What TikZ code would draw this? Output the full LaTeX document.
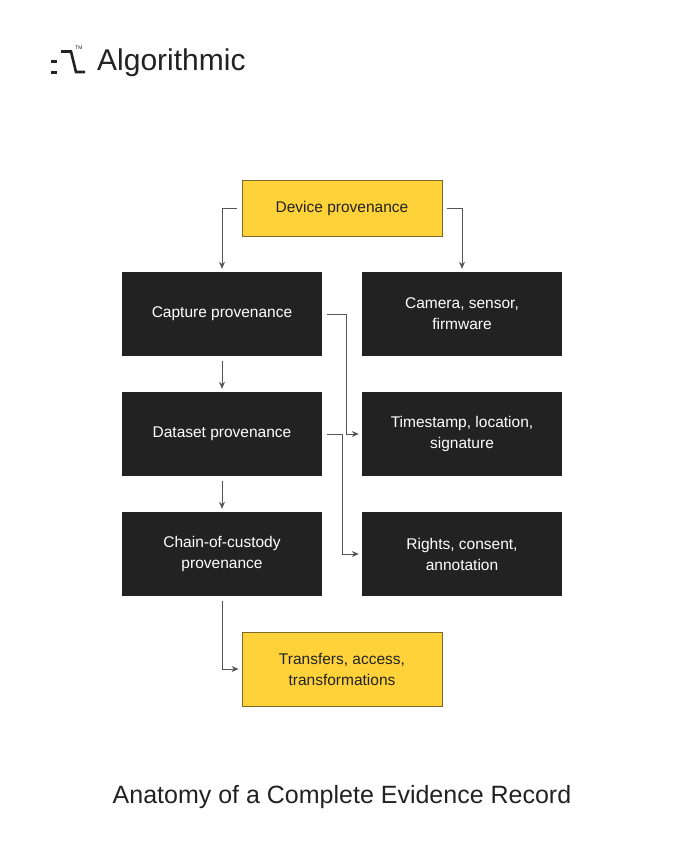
\documentclass[tikz,border=0pt]{standalone}
\usepackage{fontspec}
\setmainfont{Liberation Sans}
\usetikzlibrary{arrows.meta}
\definecolor{yel}{HTML}{FFD23A}
\definecolor{yelb}{HTML}{7A6A2A}
\definecolor{blk}{HTML}{222222}
\definecolor{ln}{HTML}{555555}
\begin{document}
\begin{tikzpicture}[x=1pt,y=-1pt,
  box/.style={draw=none,fill=blk,text=white,minimum width=200pt,minimum height=84pt,align=center,font=\fontsize{15.5}{21}\selectfont,inner sep=0pt},
  ybox/.style={draw=yelb,line width=0.8pt,fill=yel,text=blk,minimum width=200pt,align=center,font=\fontsize{15.5}{21}\selectfont,inner sep=0pt},
  con/.style={draw=ln,line width=0.9pt,-{Stealth[length=7pt,width=6pt]}}]
\useasboundingbox[fill=white] (0,0) rectangle (685,857);
% logo
\fill[blk] (51,71) rectangle (57,73.5);
\fill[blk] (51,60) rectangle (57,62.5);
\draw[blk,line width=2.6pt] (61,51.5) -- (71,51.5) -- (76,72) -- (85,72);
\node[anchor=west,font=\fontsize{5}{5}\selectfont,text=blk,inner sep=0pt] (tm) at (75,48) {TM};
\node[anchor=west,font=\fontsize{30}{30}\selectfont,text=blk,inner sep=0pt] (logo) at (97,63) {Algorithmic};
% boxes
\node[ybox,minimum height=56pt] (dev) at (342,208) {Device provenance};
\node[box] (cap) at (222,314) {Capture provenance};
\node[box] (cam) at (462,314) {Camera, sensor,\\firmware};
\node[box] (dat) at (222,434) {Dataset provenance};
\node[box] (tim) at (462,434) {Timestamp, location,\\signature};
\node[box] (cha) at (222,554) {Chain-of-custody\\provenance};
\node[box] (rig) at (462,554) {Rights, consent,\\annotation};
\node[ybox,minimum height=74pt] (tra) at (342,669) {Transfers, access,\\transformations};
% connectors
\draw[con] ([xshift=-5pt]dev.west) -| ([yshift=3pt]cap.north);
\draw[con] ([xshift=5pt]dev.east) -| ([yshift=3pt]cam.north);
\draw[con] ([yshift=-5pt]cap.south) -- ([yshift=3pt]dat.north);
\draw[con] ([yshift=-5pt]dat.south) -- ([yshift=3pt]cha.north);
\draw[con] ([xshift=5pt]cap.east) -- ++(19,0) |- ([xshift=-3pt]tim.west);
\draw[con] ([xshift=5pt]dat.east) -- ++(15,0) |- ([xshift=-3pt]rig.west);
\draw[con] ([yshift=-5pt]cha.south) |- ([xshift=-3pt]tra.west);
\node[font=\fontsize{25}{25}\selectfont,text=blk] (title) at (342,797) {Anatomy of a Complete Evidence Record};
\end{tikzpicture}
\end{document}
